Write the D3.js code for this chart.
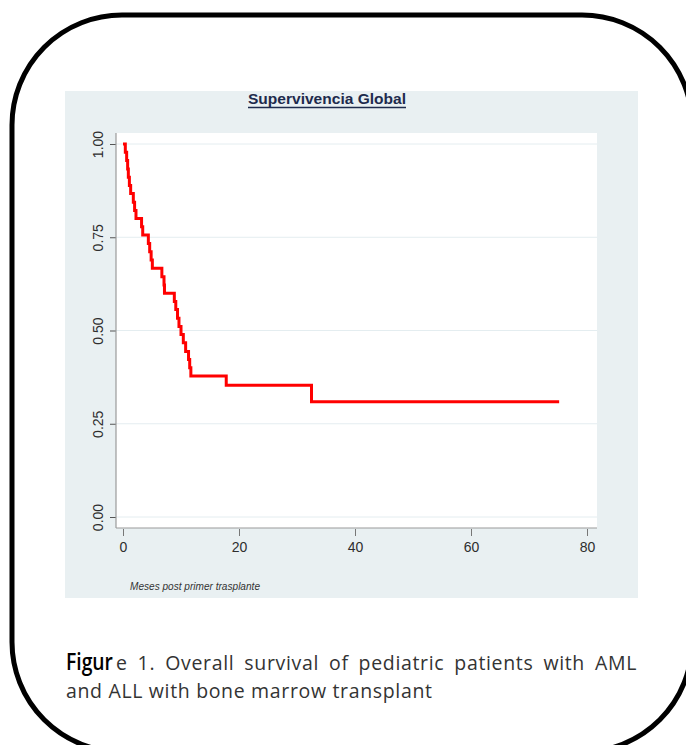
<!DOCTYPE html>
<html>
<head>
<meta charset="utf-8">
<script src="https://cdn.jsdelivr.net/npm/d3@7"></script>
<style>
  html, body { margin: 0; padding: 0; background: #ffffff; }
  svg { display: block; }
</style>
</head>
<body>
<svg id="chart" width="686" height="745"></svg>
<script>
// ---- data ----
const chartTitle = "Supervivencia Global";
const xAxisTitle = "Meses post primer trasplante";
const xTicks = [0, 20, 40, 60, 80];
const yTicks = [0, 0.25, 0.5, 0.75, 1];
// Kaplan-Meier step curve: month at which survival changes, and survival after the change
const months = [0, 0.4, 0.63, 0.8, 0.92, 1.1, 1.32, 1.78, 2.0, 2.24, 3.2, 3.4, 4.37, 4.6, 4.85, 5.06,
                6.7, 7.07, 7.15, 8.85, 9.1, 9.4, 9.65, 10.0, 10.4, 10.8, 11.3, 11.5, 11.7, 17.8, 32.5, 75.2];
const survival = [1.000, 0.978, 0.956, 0.933, 0.911, 0.889, 0.867, 0.844, 0.822, 0.800, 0.778, 0.756, 0.733, 0.711, 0.689, 0.667,
                  0.644, 0.622, 0.600, 0.578, 0.556, 0.533, 0.511, 0.489, 0.467, 0.444, 0.422, 0.400, 0.378, 0.353, 0.309, 0.309];
const captionLead = "Figur";
const captionLine1 = "e 1. Overall survival of pediatric patients with AML";
const captionLine2 = "and ALL with bone marrow transplant";

// ---- layout ----
const svg = d3.select("#chart");

// rounded frame
svg.append("rect")
  .attr("x", 12).attr("y", 15).attr("width", 680).attr("height", 737)
  .attr("rx", 110).attr("ry", 110)
  .attr("fill", "none").attr("stroke", "#000").attr("stroke-width", 5);

// chart panel
const panel = {x: 65, y: 91, w: 573, h: 507};
svg.append("rect").attr("x", panel.x).attr("y", panel.y).attr("width", panel.w).attr("height", panel.h)
  .attr("fill", "#e9f0f2");

// plot region
const plot = {l: 116, r: 597, t: 133, b: 528};
svg.append("rect").attr("x", plot.l).attr("y", plot.t).attr("width", plot.r - plot.l).attr("height", plot.b - plot.t)
  .attr("fill", "#ffffff");

const x = d3.scaleLinear().domain([0, 80]).range([123, 587]);
const y = d3.scaleLinear().domain([0, 1]).range([517, 144]);

// gridlines
svg.append("g").selectAll("line").data(yTicks).join("line")
  .attr("x1", plot.l).attr("x2", plot.r)
  .attr("y1", d => y(d)).attr("y2", d => y(d))
  .attr("stroke", "#e4edf0").attr("stroke-width", 1);

// y axis
const yAxis = svg.append("g").attr("transform", `translate(${plot.l},0)`)
  .call(d3.axisLeft(y).tickValues(yTicks).tickFormat(d3.format(".2f")).tickSize(6).tickPadding(0));
yAxis.select(".domain").remove();
yAxis.selectAll(".tick line").attr("stroke", "#555");
yAxis.selectAll(".tick text")
  .attr("transform", "rotate(-90)")
  .attr("x", 0).attr("y", -13)
  .attr("text-anchor", "middle")
  .attr("dy", "0")
  .style("font-family", "'Liberation Sans', Arial, sans-serif")
  .style("font-size", "14px")
  .attr("fill", "#2e2e2e");
svg.append("line").attr("x1", plot.l).attr("x2", plot.l).attr("y1", plot.t).attr("y2", plot.b)
  .attr("stroke", "#9a9a9a").attr("stroke-width", 1.2);

// x axis
const xAxis = svg.append("g").attr("transform", `translate(0,${plot.b + 1})`)
  .call(d3.axisBottom(x).tickValues(xTicks).tickFormat(d3.format("d")).tickSize(7).tickPadding(6));
xAxis.select(".domain").remove();
xAxis.selectAll(".tick line").attr("stroke", "#777");
xAxis.selectAll(".tick text")
  .style("font-family", "'Liberation Sans', Arial, sans-serif")
  .style("font-size", "14px")
  .attr("fill", "#2e2e2e");
svg.append("line").attr("x1", plot.l).attr("x2", plot.r).attr("y1", plot.b).attr("y2", plot.b)
  .attr("stroke", "#9a9a9a").attr("stroke-width", 1.2);

// x axis title
svg.append("text").attr("x", 130).attr("y", 590)
  .attr("textLength", 130).attr("lengthAdjust", "spacingAndGlyphs")
  .style("font-family", "'Liberation Sans', Arial, sans-serif")
  .style("font-size", "10px").style("font-style", "italic")
  .attr("fill", "#333").text(xAxisTitle);

// title
svg.append("text").attr("x", 327).attr("y", 104)
  .attr("text-anchor", "middle")
  .style("font-family", "'Liberation Sans', Arial, sans-serif")
  .style("font-size", "15.5px").style("font-weight", "bold")
  .attr("textLength", 158).attr("lengthAdjust", "spacingAndGlyphs")
  .attr("fill", "#1e2b4d").text(chartTitle);
svg.append("line").attr("x1", 248).attr("x2", 406).attr("y1", 107.5).attr("y2", 107.5)
  .attr("stroke", "#1e2b4d").attr("stroke-width", 1.3);

// KM curve
const pts = months.map((m, i) => [m, survival[i]]);
svg.append("path").datum(pts)
  .attr("d", d3.line().x(d => x(d[0])).y(d => y(d[1])).curve(d3.curveStepAfter))
  .attr("fill", "none").attr("stroke", "#ff0000").attr("stroke-width", 3)
  .attr("stroke-linejoin", "miter");

// caption
const capFont = "'Open Sans', 'DejaVu Sans', sans-serif";
const capSize = 19.5;

// lead word "Figur": larger, darker, narrowed horizontally to its width in the reference
const lead = svg.append("text").attr("x", 0).attr("y", 0)
  .style("font-family", capFont).style("font-size", "24px").style("font-weight", "600")
  .attr("fill", "#000").text(captionLead);
const leadNat = lead.node().getComputedTextLength();
lead.attr("transform", `translate(66,670) scale(${47 / leadNat},1)`);

// second line, fitted to its measured width in the reference
const l2 = svg.append("text").attr("x", 66).attr("y", 698)
  .style("font-family", capFont).style("font-size", capSize + "px")
  .attr("fill", "#333").text(captionLine2);
const natural2 = l2.node().getComputedTextLength();
const ls = (366 - natural2) / (captionLine2.length - 1);
l2.style("letter-spacing", ls + "px");

// measure words of the first line
const words = captionLine1.split(" ");
const widths = words.map(w => {
  const t = svg.append("text").style("font-family", capFont).style("font-size", capSize + "px")
    .style("letter-spacing", ls + "px").text(w);
  const wd = t.node().getComputedTextLength();
  t.remove();
  return wd;
});
const leadEnd = 116, right = 637;
const gap = (right - leadEnd - d3.sum(widths)) / (words.length - 1);

// first line (after the lead word), justified
const l1 = svg.append("text").attr("y", 670)
  .style("font-family", capFont).style("font-size", capSize + "px").attr("fill", "#333");
let cx = leadEnd;
words.forEach((w, i) => {
  l1.append("tspan").attr("x", cx).style("letter-spacing", ls + "px").text(w);
  cx += widths[i] + gap;
});
</script>
</body>
</html>
